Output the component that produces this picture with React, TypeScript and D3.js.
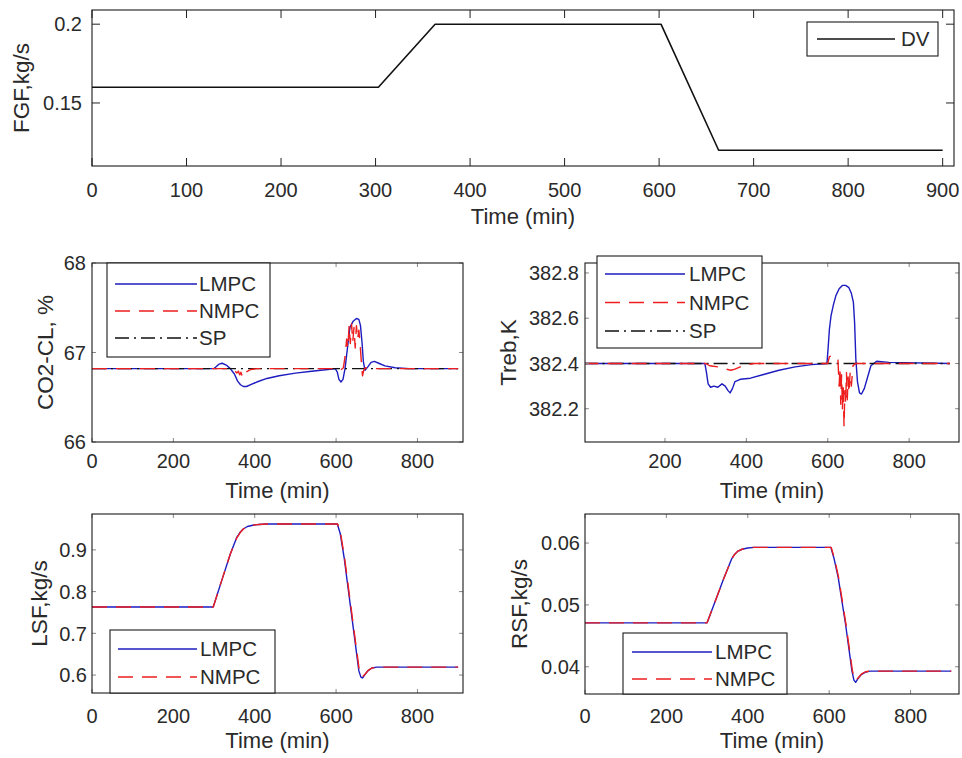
import React from 'react';
import * as d3 from 'd3';

// ---------- data ----------
const dvTime = [0, 303, 363, 602, 663, 900];
const dvValue = [0.16, 0.16, 0.2, 0.2, 0.12, 0.12];

const co2LmpcTime = [0, 300, 305, 312, 320, 330, 340, 350, 358, 365, 372, 380, 390, 405, 430, 460, 500, 540, 580, 598, 603, 607, 612, 617, 622, 628, 634, 642, 650, 656, 660, 664, 667, 671, 678, 686, 694, 705, 720, 745, 780, 900];
const co2LmpcValue = [66.82, 66.82, 66.84, 66.87, 66.88, 66.86, 66.82, 66.76, 66.68, 66.64, 66.62, 66.62, 66.64, 66.67, 66.71, 66.74, 66.77, 66.79, 66.81, 66.82, 66.78, 66.7, 66.67, 66.7, 66.82, 67.05, 67.28, 67.35, 67.38, 67.37, 67.3, 67.1, 66.9, 66.8, 66.84, 66.89, 66.9, 66.88, 66.85, 66.83, 66.82, 66.82];
const co2NmpcTime = [0, 300, 340, 350, 356, 360, 363, 366, 369, 372, 375, 378, 382, 390, 405, 600, 610, 618, 622, 626, 629, 632, 635, 638, 641, 644, 647, 650, 653, 656, 659, 662, 665, 668, 672, 680, 900];
const co2NmpcValue = [66.82, 66.82, 66.82, 66.8, 66.77, 66.79, 66.75, 66.78, 66.74, 66.77, 66.75, 66.78, 66.79, 66.81, 66.82, 66.82, 66.8, 66.83, 66.95, 67.15, 67.05, 67.3, 67.1, 67.32, 67.12, 67.28, 67.05, 67.3, 67.15, 67.25, 67.1, 66.9, 66.74, 66.8, 66.83, 66.82, 66.82];
const co2SpTime = [0, 900];
const co2SpValue = [66.82, 66.82];

const trebLmpcTime = [0, 298, 302, 306, 312, 320, 330, 340, 348, 355, 360, 366, 372, 385, 410, 440, 480, 520, 560, 598, 601, 604, 608, 614, 620, 628, 636, 644, 652, 658, 663, 666, 669, 673, 678, 683, 690, 698, 706, 720, 750, 900];
const trebLmpcValue = [382.4, 382.4, 382.36, 382.31, 382.295, 382.3, 382.295, 382.31, 382.3, 382.28, 382.27, 382.29, 382.32, 382.33, 382.335, 382.35, 382.37, 382.385, 382.395, 382.4, 382.47, 382.55, 382.61, 382.66, 382.7, 382.73, 382.745, 382.745, 382.735, 382.71, 382.67, 382.58, 382.42, 382.32, 382.27, 382.265, 382.29, 382.34, 382.39, 382.41, 382.405, 382.4];
const trebNmpcTime = [0, 300, 310, 330, 350, 362, 372, 385, 400, 420, 600, 604, 612, 620, 625, 628, 630, 632, 634, 636, 638, 640, 642, 644, 646, 648, 650, 652, 655, 658, 662, 668, 900];
const trebNmpcValue = [382.4, 382.4, 382.39, 382.385, 382.375, 382.37, 382.375, 382.385, 382.395, 382.4, 382.4, 382.43, 382.435, 382.43, 382.42, 382.3, 382.38, 382.22, 382.35, 382.2, 382.3, 382.12, 382.28, 382.22, 382.36, 382.24, 382.34, 382.27, 382.36, 382.3, 382.39, 382.4, 382.4];
const trebSpTime = [0, 900];
const trebSpValue = [382.4, 382.4];

const lsfLmpcTime = [0, 298, 320, 340, 356, 364, 372, 382, 395, 410, 430, 460, 603, 610, 620, 640, 656, 661, 665, 670, 678, 688, 700, 900];
const lsfLmpcValue = [0.763, 0.763, 0.83, 0.89, 0.93, 0.942, 0.95, 0.956, 0.959, 0.961, 0.962, 0.962, 0.962, 0.94, 0.88, 0.73, 0.61, 0.595, 0.593, 0.6, 0.61, 0.617, 0.619, 0.619];
const lsfNmpcTime = [0, 298, 320, 340, 356, 364, 372, 382, 395, 410, 430, 460, 604, 611, 621, 641, 657, 662, 666, 671, 679, 689, 700, 900];
const lsfNmpcValue = [0.763, 0.763, 0.83, 0.89, 0.929, 0.941, 0.95, 0.956, 0.959, 0.961, 0.962, 0.962, 0.962, 0.94, 0.88, 0.73, 0.612, 0.598, 0.597, 0.602, 0.611, 0.617, 0.619, 0.619];

const rsfLmpcTime = [0, 300, 320, 340, 360, 368, 376, 386, 400, 415, 430, 460, 604, 612, 622, 640, 656, 661, 665, 670, 678, 688, 700, 900];
const rsfLmpcValue = [0.0471, 0.0471, 0.0506, 0.0541, 0.0574, 0.0582, 0.0587, 0.059, 0.0592, 0.0593, 0.0593, 0.0593, 0.0593, 0.0575, 0.0545, 0.047, 0.0393, 0.0378, 0.0375, 0.038, 0.0387, 0.0391, 0.0393, 0.0393];
const rsfNmpcTime = [0, 300, 320, 340, 360, 368, 376, 386, 400, 415, 430, 460, 605, 613, 623, 641, 657, 662, 666, 671, 679, 689, 700, 900];
const rsfNmpcValue = [0.0471, 0.0471, 0.0506, 0.0541, 0.0574, 0.0582, 0.0587, 0.059, 0.0592, 0.0593, 0.0593, 0.0593, 0.0593, 0.0575, 0.0545, 0.047, 0.0394, 0.038, 0.0378, 0.0382, 0.0388, 0.0392, 0.0393, 0.0393];

const topXTicks = [0, 100, 200, 300, 400, 500, 600, 700, 800, 900];
const topYTicks = [0.15, 0.2];
const smallXTicks = [0, 200, 400, 600, 800];
const co2YTicks = [66, 67, 68];
const trebYTicks = [382.2, 382.4, 382.6, 382.8];
const lsfYTicks = [0.6, 0.7, 0.8, 0.9];
const rsfYTicks = [0.04, 0.05, 0.06];

// ---------- styles ----------
const FONT = '"Liberation Sans", Arial, Helvetica, sans-serif';
const BLUE = '#1c1cc0';
const RED = '#ee1e1e';
const TXT = '#2a2a2a';
const DASH = '15,9';
const DASHDOT = '14,5,2,5';

type Series = { t: number[]; v: number[]; color: string; dash?: string; width: number };
type LegendEntry = { name: string; cy: number; color: string; dash?: string; width: number };
type Legend = { l: number; t: number; r: number; b: number; x0: number; x1: number; tx: number; entries: LegendEntry[] };

const fmt = (d: number) => String(+d.toFixed(6));

function Panel(props: {
  id: string;
  box: { l: number; r: number; t: number; b: number };
  xDomain: [number, number];
  yDomain: [number, number];
  xTicks: number[];
  yTicks: number[];
  tickLen: number;
  tickColor: string;
  xTickBase: number;
  xLabelBase: number;
  yTickGap: number;
  yLabel: string;
  yLabelX: number;
  series: Series[];
  legend: Legend;
}) {
  const { id, box, xDomain, yDomain, xTicks, yTicks, tickLen, tickColor, xTickBase, xLabelBase, yTickGap, yLabel, yLabelX, series, legend } = props;
  const x = d3.scaleLinear().domain(xDomain).range([box.l, box.r]);
  const y = d3.scaleLinear().domain(yDomain).range([box.b, box.t]);
  const mk = (s: Series) =>
    d3.line<number>().x((_, i) => x(s.t[i])).y((d) => y(d))(s.v) || '';
  const cx = (box.l + box.r) / 2;
  const cy = (box.t + box.b) / 2;
  return (
    <g>
      <defs>
        <clipPath id={id}>
          <rect x={box.l} y={box.t} width={box.r - box.l} height={box.b - box.t} />
        </clipPath>
      </defs>
      <rect x={box.l} y={box.t} width={box.r - box.l} height={box.b - box.t} fill="#fff" />
      <g clipPath={`url(#${id})`}>
        {series.map((s, i) => (
          <path key={i} d={mk(s)} fill="none" stroke={s.color} strokeWidth={s.width} strokeDasharray={s.dash} strokeLinejoin="round" />
        ))}
      </g>
      {xTicks.map((t) => (
        <g key={'xt' + t}>
          <line x1={x(t)} x2={x(t)} y1={box.b} y2={box.b - tickLen} stroke={tickColor} />
          <line x1={x(t)} x2={x(t)} y1={box.t} y2={box.t + tickLen} stroke={tickColor} />
          <text x={x(t)} y={xTickBase} textAnchor="middle" fontSize={20} fill={TXT} fontFamily={FONT}>{fmt(t)}</text>
        </g>
      ))}
      {yTicks.map((t) => (
        <g key={'yt' + t}>
          <line x1={box.l} x2={box.l + tickLen} y1={y(t)} y2={y(t)} stroke={tickColor} />
          <line x1={box.r} x2={box.r - tickLen} y1={y(t)} y2={y(t)} stroke={tickColor} />
          <text x={box.l - yTickGap} y={y(t)} dy="0.36em" textAnchor="end" fontSize={20} fill={TXT} fontFamily={FONT}>{fmt(t)}</text>
        </g>
      ))}
      <rect x={box.l} y={box.t} width={box.r - box.l} height={box.b - box.t} fill="none" stroke="#1a1a1a" strokeWidth={1.1} />
      <text x={cx} y={xLabelBase} textAnchor="middle" fontSize={22} fill={TXT} fontFamily={FONT}>Time (min)</text>
      <text transform={`translate(${yLabelX},${cy}) rotate(-90)`} textAnchor="middle" fontSize={22.5} fill={TXT} fontFamily={FONT}>{yLabel}</text>
      <rect x={legend.l} y={legend.t} width={legend.r - legend.l} height={legend.b - legend.t} fill="#fff" stroke="#1a1a1a" strokeWidth={1.1} />
      {legend.entries.map((e) => (
        <g key={e.name}>
          <line x1={legend.x0} x2={legend.x1} y1={e.cy} y2={e.cy} stroke={e.color} strokeWidth={e.width} strokeDasharray={e.dash} />
          <text x={legend.tx} y={e.cy} dy="0.36em" fontSize={20.5} fill={TXT} fontFamily={FONT}>{e.name}</text>
        </g>
      ))}
    </g>
  );
}

export default function App() {
  const lm = (t: number[], v: number[]): Series => ({ t, v, color: BLUE, width: 1.4 });
  const nm = (t: number[], v: number[]): Series => ({ t, v, color: RED, width: 1.4, dash: DASH });
  const sp = (t: number[], v: number[]): Series => ({ t, v, color: '#111', width: 1.3, dash: DASHDOT });
  const three = (y0: number, dy: number): LegendEntry[] => [
    { name: 'LMPC', cy: y0, color: BLUE, width: 1.4 },
    { name: 'NMPC', cy: y0 + dy, color: RED, width: 1.4, dash: DASH },
    { name: 'SP', cy: y0 + 2 * dy, color: '#111', width: 1.3, dash: DASHDOT },
  ];
  const two = (y0: number, dy: number): LegendEntry[] => [
    { name: 'LMPC', cy: y0, color: BLUE, width: 1.4 },
    { name: 'NMPC', cy: y0 + dy, color: RED, width: 1.4, dash: DASH },
  ];
  return (
    <svg width={962} height={758} style={{ position: 'absolute', left: 0, top: 0, background: '#fff' }}>
      <rect width={962} height={758} fill="#fff" />
      <Panel
        id="c1"
        box={{ l: 92, r: 954, t: 10, b: 166 }}
        xDomain={[0, 912]}
        yDomain={[0.11, 0.209]}
        xTicks={topXTicks}
        yTicks={topYTicks}
        tickLen={8}
        tickColor="#222"
        xTickBase={197}
        xLabelBase={224}
        yTickGap={10}
        yLabel="FGF,kg/s"
        yLabelX={29}
        series={[{ t: dvTime, v: dvValue, color: '#111', width: 1.6 }]}
        legend={{ l: 807, t: 22, r: 938, b: 56, x0: 817, x1: 895, tx: 901, entries: [{ name: 'DV', cy: 39, color: '#111', width: 1.5 }] }}
      />
      <Panel
        id="c2"
        box={{ l: 92, r: 463, t: 263, b: 442 }}
        xDomain={[0, 912]}
        yDomain={[66, 68]}
        xTicks={smallXTicks}
        yTicks={co2YTicks}
        tickLen={4}
        tickColor="#888"
        xTickBase={468}
        xLabelBase={498}
        yTickGap={6}
        yLabel="CO2-CL, %"
        yLabelX={53}
        series={[lm(co2LmpcTime, co2LmpcValue), sp(co2SpTime, co2SpValue), nm(co2NmpcTime, co2NmpcValue)]}
        legend={{ l: 107, t: 263, r: 270, b: 357, x0: 115, x1: 197, tx: 199, entries: three(284, 27) }}
      />
      <Panel
        id="c3"
        box={{ l: 585, r: 959, t: 263, b: 442 }}
        xDomain={[3.5, 922.5]}
        yDomain={[382.053, 382.844]}
        xTicks={[200, 400, 600, 800]}
        yTicks={trebYTicks}
        tickLen={4}
        tickColor="#888"
        xTickBase={468}
        xLabelBase={498}
        yTickGap={6}
        yLabel="Treb,K"
        yLabelX={516}
        series={[lm(trebLmpcTime, trebLmpcValue), sp(trebSpTime, trebSpValue), nm(trebNmpcTime, trebNmpcValue)]}
        legend={{ l: 597, t: 256, r: 762, b: 348, x0: 605, x1: 685, tx: 689, entries: three(274, 28.5) }}
      />
      <Panel
        id="c4"
        box={{ l: 92, r: 463, t: 514, b: 693 }}
        xDomain={[0, 912]}
        yDomain={[0.557, 0.986]}
        xTicks={smallXTicks}
        yTicks={lsfYTicks}
        tickLen={4}
        tickColor="#888"
        xTickBase={723}
        xLabelBase={748}
        yTickGap={5}
        yLabel="LSF,kg/s"
        yLabelX={47}
        series={[lm(lsfLmpcTime, lsfLmpcValue), nm(lsfNmpcTime, lsfNmpcValue)]}
        legend={{ l: 110, t: 630, r: 275, b: 693, x0: 118, x1: 197, tx: 200, entries: two(649, 28) }}
      />
      <Panel
        id="c5"
        box={{ l: 585, r: 959, t: 514, b: 694 }}
        xDomain={[0, 919]}
        yDomain={[0.0356, 0.0647]}
        xTicks={smallXTicks}
        yTicks={rsfYTicks}
        tickLen={4}
        tickColor="#888"
        xTickBase={723}
        xLabelBase={748}
        yTickGap={5}
        yLabel="RSF,kg/s"
        yLabelX={527}
        series={[lm(rsfLmpcTime, rsfLmpcValue), nm(rsfNmpcTime, rsfNmpcValue)]}
        legend={{ l: 623, t: 633, r: 787, b: 694, x0: 632, x1: 712, tx: 715, entries: two(652, 27) }}
      />
    </svg>
  );
}
